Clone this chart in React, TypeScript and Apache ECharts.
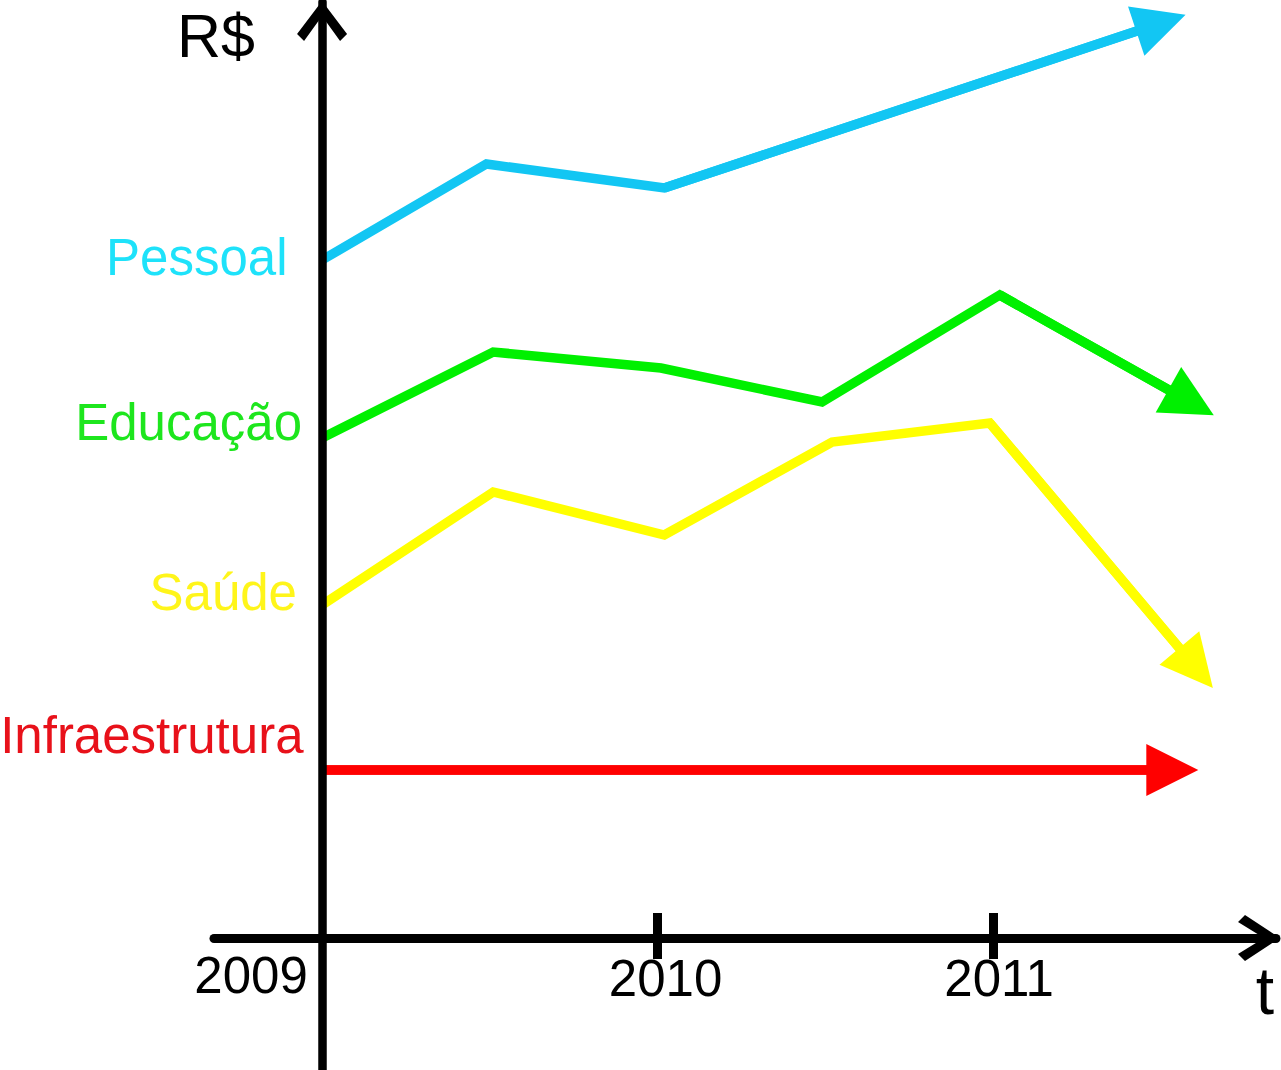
import React, { useEffect, useRef } from "react";
import * as echarts from "echarts";

// ---- data (x = years since 2009, y = R$ in arbitrary units) ----
const BASE_YEAR = 2009;
const labelYears = [2009, 2010, 2011];
const tickYears = [2010, 2011];

const seriesNames = ["Pessoal", "Educação", "Saúde", "Infraestrutura"];
const pessoal = [[0, 6.78], [0.49, 7.74], [1.02, 7.5], [2.5, 9.15]];
const educacao = [[0, 5.0], [0.51, 5.86], [1.01, 5.7], [1.49, 5.36], [2.02, 6.43], [2.59, 5.355]];
const saude = [[0, 3.33], [0.51, 4.46], [1.02, 4.03], [1.52, 4.96], [1.99, 5.15], [2.605, 2.7]];
const infraestrutura = [[0, 1.68], [2.534, 1.68]];

const lineColors = ["#12C6F3", "#00F000", "#FFFF00", "#FF0000"];
const textColors = ["#1EE2FA", "#1DE61D", "#FFF51A", "#E8111A"];

// ---- layout ----
const W = 1281;
const H = 1070;
const X_MIN = -0.322;
const X_MAX = 2.843;
const Y_MIN = -1.32;
const Y_MAX = 9.36;
const GRID = { left: 214, right: 5, top: 2, bottom: 0 };
const FONT = "'Liberation Sans', Arial, Helvetica, sans-serif";
const LINE_W = 9.5;

const Y_ARROW = "path://M25,0L50,33L43,40L25,15L7,40L0,33Z";
const X_ARROW = "path://M23,0L46,35L39,42L23,16L7,42L0,35Z";

function makeSeries(name: string, data: number[][], color: string) {
  const n = data.length;
  return {
    type: "line",
    name,
    data,
    symbol: "none",
    silent: true,
    z: 2,
    lineStyle: { color, width: LINE_W, join: "miter", cap: "butt" },
    itemStyle: { color },
    emphasis: { disabled: true },
    markLine: {
      silent: true,
      symbol: ["none", "triangle"],
      symbolSize: 52,
      label: { show: false },
      emphasis: { disabled: true },
      itemStyle: { color },
      lineStyle: { color, width: LINE_W, type: "solid", cap: "butt" },
      data: [[{ coord: data[n - 2] }, { coord: data[n - 1] }]],
    },
  };
}

export default function App() {
  const ref = useRef<HTMLDivElement>(null);

  useEffect(() => {
    if (!ref.current) return;
    const chart = echarts.init(ref.current, undefined, { renderer: "svg" });
    const gridH = H - GRID.top - GRID.bottom;
    const zeroOffset = -((0 - Y_MIN) / (Y_MAX - Y_MIN)) * gridH;

    const richStyles: any = {
      y0: { fontSize: 51, fontFamily: FONT, color: "#000", padding: [0, 142, 0, 0] },
      y1: { fontSize: 51, fontFamily: FONT, color: "#000", padding: [3, 0, 0, 16] },
      y2: { fontSize: 51, fontFamily: FONT, color: "#000", padding: [3, 0, 0, 12] },
    };

    const tickStyle = { color: "#000", width: 9 };
    const all = [pessoal, educacao, saude, infraestrutura];

    const labelSpecs = [
      { x: 287.5, y: 257.3 },
      { x: 302, y: 422.3 },
      { x: 297, y: 592.3 },
      { x: 303.5, y: 735.3 },
    ];

    const option: any = {
      animation: false,
      backgroundColor: "#fff",
      grid: { ...GRID, containLabel: false, outerBoundsMode: "none" },
      xAxis: [
        {
          type: "value",
          min: X_MIN,
          max: X_MAX,
          position: "bottom",
          offset: zeroOffset,
          z: 10,
          axisLine: {
            show: true,
            onZero: false,
            symbol: ["none", X_ARROW],
            symbolSize: [46, 42],
            symbolOffset: [0, -17],
            lineStyle: { color: "#000", width: 9 },
          },
          axisTick: {
            show: true,
            customValues: tickYears.map((y) => y - BASE_YEAR),
            inside: false,
            length: 21,
            lineStyle: tickStyle,
          },
          axisLabel: {
            show: true,
            customValues: labelYears.map((y) => y - BASE_YEAR),
            margin: 12,
            fontSize: 51,
            fontFamily: FONT,
            color: "#000",
            formatter: (v: number) => {
              const idx = Math.round(v);
              return `{y${idx}|${BASE_YEAR + idx}}`;
            },
            rich: richStyles,
          },
          splitLine: { show: false },
        },
        {
          type: "value",
          min: X_MIN,
          max: X_MAX,
          position: "bottom",
          offset: zeroOffset,
          z: 10,
          axisLine: { show: false, onZero: false },
          axisTick: {
            show: true,
            customValues: tickYears.map((y) => y - BASE_YEAR),
            inside: true,
            length: 25,
            lineStyle: tickStyle,
          },
          axisLabel: { show: false },
          splitLine: { show: false },
        },
      ],
      yAxis: {
        type: "value",
        min: Y_MIN,
        max: Y_MAX,
        z: 10,
        axisLine: {
          show: true,
          onZero: true,
          symbol: ["none", Y_ARROW],
          symbolSize: [50, 40],
          symbolOffset: [0, -19],
          lineStyle: { color: "#000", width: 8.5 },
        },
        axisTick: { show: false },
        axisLabel: { show: false },
        splitLine: { show: false },
      },
      series: all.map((d, i) => makeSeries(seriesNames[i], d, lineColors[i])),
      graphic: [
        {
          type: "text",
          z: 20,
          style: {
            text: "R$",
            x: 255,
            y: 35.5,
            fill: "#000",
            font: `61px ${FONT}`,
            align: "right",
            verticalAlign: "middle",
            textAlign: "right",
            textVerticalAlign: "middle",
          },
        },
        {
          type: "text",
          z: 20,
          style: {
            text: "t",
            x: 1265,
            y: 991,
            fill: "#000",
            font: `66px ${FONT}`,
            align: "center",
            verticalAlign: "middle",
            textAlign: "center",
            textVerticalAlign: "middle",
          },
        },
        ...seriesNames.map((name, i) => ({
          type: "text",
          z: 20,
          style: {
            text: name,
            x: labelSpecs[i].x,
            y: labelSpecs[i].y,
            fill: textColors[i],
            font: `51px ${FONT}`,
            align: "right",
            verticalAlign: "middle",
            textAlign: "right",
            textVerticalAlign: "middle",
          },
        })),
      ],
    };

    chart.setOption(option);
    return () => chart.dispose();
  }, []);

  return (
    <div
      ref={ref}
      style={{ position: "absolute", left: 0, top: 0, width: W, height: H }}
    />
  );
}
